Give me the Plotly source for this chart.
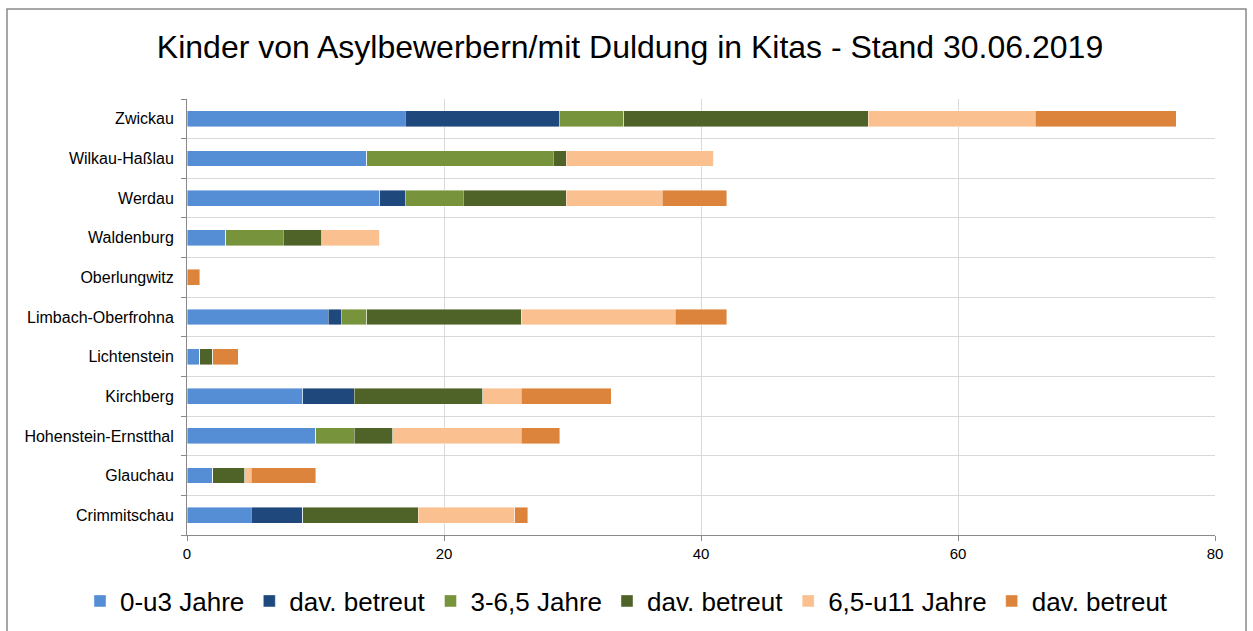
import plotly.graph_objects as go

categories = ["Crimmitschau", "Glauchau", "Hohenstein-Ernstthal", "Kirchberg",
              "Lichtenstein", "Limbach-Oberfrohna", "Oberlungwitz", "Waldenburg",
              "Werdau", "Wilkau-Haßlau", "Zwickau"]

u3_jahre        = [5, 2, 10, 9, 1, 11, 0, 3, 15, 14, 17]
u3_betreut      = [4, 0, 0, 4, 0, 1, 0, 0, 2, 0, 12]
j3_65           = [0, 0, 3, 0, 0, 2, 0, 4.5, 4.5, 14.5, 5]
j3_65_betreut   = [9, 2.5, 3, 10, 1, 12, 0, 3, 8, 1, 19]
j65_u11         = [7.5, 0.5, 10, 3, 0, 12, 0, 4.5, 7.5, 11.5, 13]
j65_u11_betreut = [1, 5, 3, 7, 2, 4, 1, 0, 5, 0, 11]

series_names = ["0-u3 Jahre", "dav. betreut", "3-6,5 Jahre", "dav. betreut",
                "6,5-u11 Jahre", "dav. betreut"]
series_values = [u3_jahre, u3_betreut, j3_65, j3_65_betreut, j65_u11, j65_u11_betreut]
colors = ["#558ED5", "#1F497D", "#77933C", "#4F6228", "#FAC090", "#DD843C"]

x_ticks = [0, 20, 40, 60, 80]

fig = go.Figure()
for name, vals, col in zip(series_names, series_values, colors):
    fig.add_trace(go.Bar(
        y=categories, x=vals, name=name, orientation="h",
        marker=dict(color=col, line=dict(color="rgba(255,255,255,0.6)", width=0.7)),
    ))

W, H = 1253, 631
ml, mr, mt, mb = 187, W - 1215, 99, H - 535
pw, ph = W - ml - mr, H - mt - mb
plot_bottom = H - mb

fig.update_layout(
    width=W, height=H,
    barmode="stack", bargap=0.6,
    plot_bgcolor="white", paper_bgcolor="white",
    margin=dict(l=ml, r=mr, t=mt, b=mb, pad=0, autoexpand=False),
    font=dict(family="Liberation Sans, Arial, sans-serif", color="#000000"),
    title=dict(text="Kinder von Asylbewerbern/mit Duldung in Kitas - Stand 30.06.2019",
               x=630 / W, xanchor="center", y=1 - 47 / H, yanchor="middle",
               font=dict(size=32, color="#000000")),
    legend=dict(orientation="h", x=(80 - ml) / pw, xanchor="left",
                y=(plot_bottom - 601) / ph, yanchor="middle",
                font=dict(size=26, color="#000000"),
                traceorder="normal", itemwidth=30, tracegroupgap=0),
    xaxis=dict(range=[0, 80], tickvals=x_ticks, showgrid=True, gridcolor="#D9D9D9",
               gridwidth=1, zeroline=False, showline=True, linecolor="#898989",
               linewidth=1, ticks="outside", ticklen=5, tickcolor="#898989",
               tickfont=dict(size=15, color="#000000"), mirror=False,
               automargin=False),
    yaxis=dict(type="category", tickson="boundaries", showgrid=True,
               gridcolor="#D9D9D9", gridwidth=1, showline=True, linecolor="#898989",
               linewidth=1, ticks="outside", ticklen=5, tickcolor="#898989",
               tickfont=dict(size=16, color="#000000"), ticklabelstandoff=9,
               automargin=False),
    shapes=[dict(type="rect", xref="paper", yref="paper",
                 x0=(7 - ml) / pw, x1=(1246 - ml) / pw,
                 y0=(plot_bottom - 660) / ph, y1=(plot_bottom - 9) / ph,
                 line=dict(color="#898989", width=1.5), fillcolor="rgba(0,0,0,0)",
                 layer="below")],
)

fig.write_html("out.html", config={"displayModeBar": False},
               post_script="document.body.style.margin='0';document.body.style.overflow='hidden';")
